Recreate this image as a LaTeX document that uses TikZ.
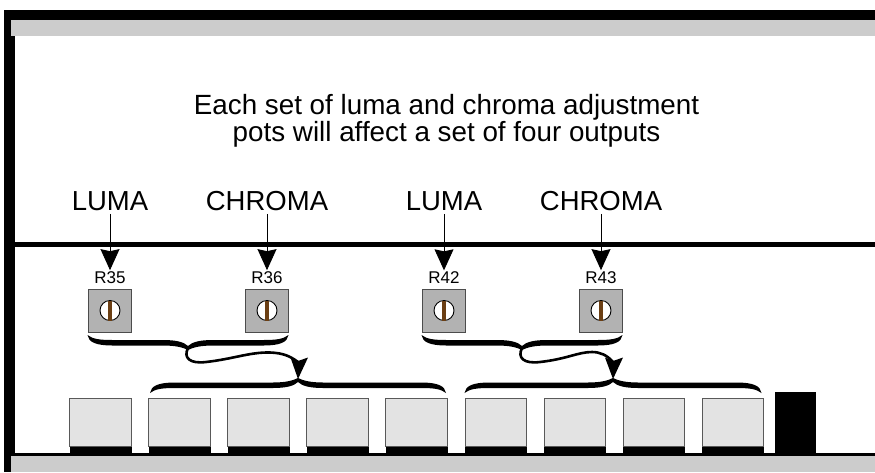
\documentclass[tikz,border=0pt]{standalone}
\usepackage{fontspec}
\setmainfont{Liberation Sans}
\usetikzlibrary{positioning,arrows.meta}
\definecolor{bandgray}{HTML}{CCCCCC}
\definecolor{potgray}{HTML}{B2B2B2}
\definecolor{boxgray}{HTML}{E3E3E3}
\definecolor{slotbrown}{HTML}{6B3F14}
\tikzset{
    potbox/.style={draw=black!70, fill=potgray, line width=0.8pt, minimum size=43pt, inner sep=0pt},
    screw/.style={circle, draw=black, fill=white, line width=0.9pt, minimum size=20pt, inner sep=0pt},
    slot/.style={fill=slotbrown, minimum width=4pt, minimum height=20pt, inner sep=0pt},
    outbox/.style={draw=black!65, fill=boxgray, line width=0.8pt, minimum width=61.5pt, minimum height=48pt, inner sep=0pt},
    outfoot/.style={fill=black, minimum width=62pt, minimum height=7pt, inner sep=0pt, anchor=north},
    bigtext/.style={font=\fontsize{27.5}{30}\selectfont, inner sep=3pt},
    potlabel/.style={font=\fontsize{17}{18}\selectfont, inner sep=1pt},
    pointer/.style={line width=0.9pt, -{Stealth[length=21pt, width=19pt, inset=2pt]}},
    swoop/.style={line width=2.6pt},
    swoophead/.style={fill=black},
}
% #1 point of the brace, #2 half width, #3 side of the ends (1 down, -1 up)
\newcommand{\curlybrace}[3]{
    \begin{scope}[shift={(#1)}, yscale=#3]
        \fill (-#2,14) .. controls (-#2+1,7) and (-#2+8,3.5) .. (-#2+25,3.5) -- (-25,3.5)
            .. controls (-12,3.5) and (-5,1.5) .. (0,-1)
            .. controls (5,1.5) and (12,3.5) .. (25,3.5) -- (#2-25,3.5)
            .. controls (#2-8,3.5) and (#2-1,7) .. (#2,14)
            .. controls (#2-5,10) and (#2-12,9) .. (#2-25,9) -- (25,9)
            .. controls (12,9) and (4,7) .. (0,3)
            .. controls (-4,7) and (-12,9) .. (-25,9) -- (-#2+25,9)
            .. controls (-#2+12,9) and (-#2+5,10) .. (-#2,14) -- cycle;
    \end{scope}
}
\begin{document}
\begin{tikzpicture}[x=1pt, y=-1pt]
    \useasboundingbox (0,0) rectangle (875,472);
    % case
    \fill (4,10) rectangle (875,20);
    \fill (4,10) rectangle (15,456);
    \fill (4,456) rectangle (11,472);
    \fill[bandgray] (11,20) rectangle (875,36);
    \fill (15,242) rectangle (875,246.5);
    \fill (15,453) rectangle (875,456);
    \fill[bandgray] (11,456) rectangle (875,472);
    \node[font=\fontsize{27.8}{27}\selectfont, align=center] (note) at (446.5,120.5) {Each set of luma and chroma adjustment\\pots will affect a set of four outputs};
    % pots
    \node[potbox] (r35) at (110,310.5) {}; \node[potlabel, above=4pt of r35] (t35) {R35};
    \node[potbox] (r36) at (267,310.5) {}; \node[potlabel, above=4pt of r36] (t36) {R36};
    \node[potbox] (r42) at (444,310.5) {}; \node[potlabel, above=4pt of r42] (t42) {R42};
    \node[potbox] (r43) at (601,310.5) {}; \node[potlabel, above=4pt of r43] (t43) {R43};
    \node[screw] (s35) at (r35) {}; \node[slot] (b35) at (s35) {};
    \node[screw] (s36) at (r36) {}; \node[slot] (b36) at (s36) {};
    \node[screw] (s42) at (r42) {}; \node[slot] (b42) at (s42) {};
    \node[screw] (s43) at (r43) {}; \node[slot] (b43) at (s43) {};
    \node[bigtext] (luma1) at (110,201) {LUMA};
    \node[bigtext] (chroma1) at (267,201) {CHROMA};
    \node[bigtext] (luma2) at (444,201) {LUMA};
    \node[bigtext] (chroma2) at (601,201) {CHROMA};
    \draw[pointer] (luma1) -- (t35);
    \draw[pointer] (chroma1) -- (t36);
    \draw[pointer] (luma2) -- (t42);
    \draw[pointer] (chroma2) -- (t43);
    % outputs
    \node[outbox] (o1) at (100.5,422) {}; \node[outfoot] (f1) at (o1.south) {};
    \node[outbox] (o2) at (179.5,422) {}; \node[outfoot] (f2) at (o2.south) {};
    \node[outbox] (o3) at (258.5,422) {}; \node[outfoot] (f3) at (o3.south) {};
    \node[outbox] (o4) at (337.5,422) {}; \node[outfoot] (f4) at (o4.south) {};
    \node[outbox] (o5) at (416.5,422) {}; \node[outfoot] (f5) at (o5.south) {};
    \node[outbox] (o6) at (496,422) {}; \node[outfoot] (f6) at (o6.south) {};
    \node[outbox] (o7) at (575,422) {}; \node[outfoot] (f7) at (o7.south) {};
    \node[outbox] (o8) at (654,422) {}; \node[outfoot] (f8) at (o8.south) {};
    \node[outbox] (o9) at (733,422) {}; \node[outfoot] (f9) at (o9.south) {};
    \node[fill=black, minimum width=41pt, minimum height=61pt, inner sep=0pt] (block) at (795.5,422.5) {};
    % braces
    \curlybrace{188,349}{100.5}{-1}
    \curlybrace{522,349}{100.5}{-1}
    \curlybrace{298,379}{148}{1}
    \curlybrace{613,379}{148.5}{1}
    \coordinate (pots1) at (188,348);
    \coordinate (pots2) at (522,348);
    \coordinate (outs1) at (298,379);
    \coordinate (outs2) at (613,379);
    \coordinate (neck1) at (298,362);
    \coordinate (neck2) at (613,362);
    \draw[swoop] (pots1) .. controls (183,358) and (190,364) .. (206,362) .. controls (233,359) and (250,352) .. (270,352.5) .. controls (283,353) and (290,356) .. (neck1);
    \draw[swoop] (pots2) .. controls (517,358) and (524,364) .. (540,362) .. controls (567,359) and (578,352) .. (592,352) .. controls (600,352) and (607,355) .. (neck2);
    \fill[swoophead] (outs1) -- (290.5,357.5) -- (298,361) -- (308,357.5) -- cycle;
    \fill[swoophead] (outs2) -- (605,357.5) -- (613,361) -- (623,357.5) -- cycle;
\end{tikzpicture}
\end{document}
